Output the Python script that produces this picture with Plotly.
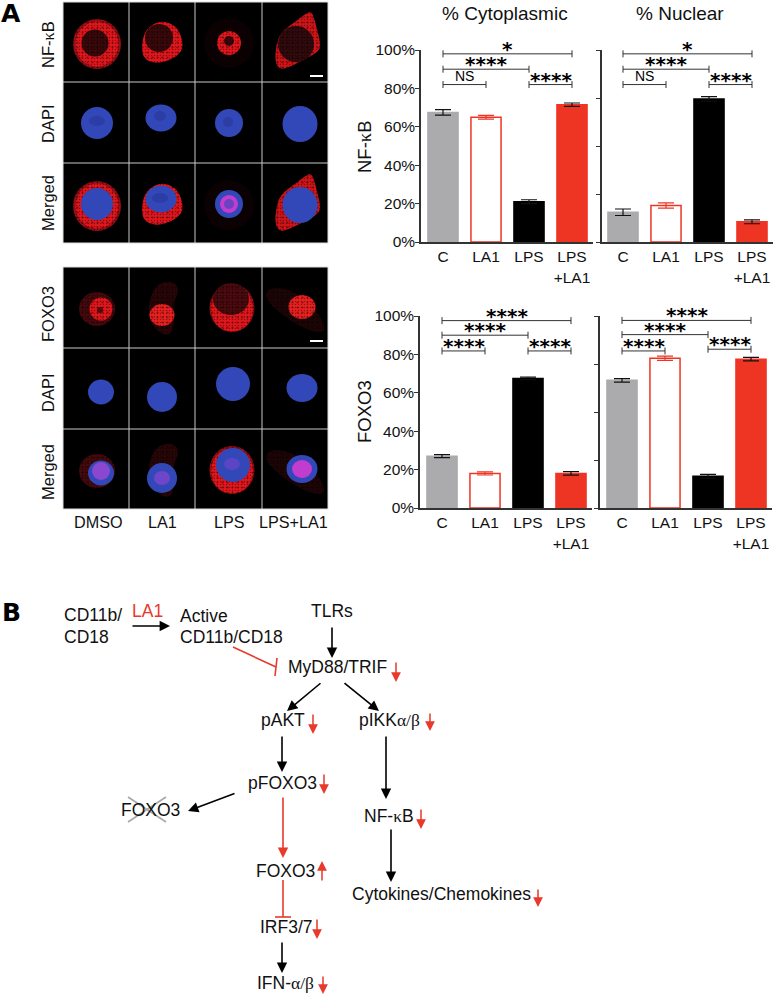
import plotly.graph_objects as go

W, H = 775, 996
FONT = "Liberation Sans"
GREY, RED, BLACK = "#ababae", "#ee3524", "#000000"
DIAG_RED = "#e8392b"

# ---------- bar chart data ----------
categories = ["C", "LA1", "LPS", "LPS<br>+LA1"]
nfkb_cyto = [67.5, 65.0, 21.0, 71.5]
nfkb_cyto_err = [1.4, 1.0, 1.0, 0.9]
nfkb_nuc = [15.5, 19.0, 74.5, 10.5]
nfkb_nuc_err = [1.7, 1.4, 1.2, 1.0]
foxo_cyto = [27.0, 18.0, 67.5, 18.0]
foxo_cyto_err = [0.8, 0.8, 0.7, 0.9]
foxo_nuc = [66.5, 78.0, 16.5, 77.5]
foxo_nuc_err = [0.9, 1.1, 1.0, 0.9]

nfkb_cyto_sig = [(0, 3, 98, "*"), (0, 2, 90, "****"), (0, 1, 82, "NS"), (2, 3, 82, "****")]
nfkb_nuc_sig = [(0, 3, 98, "*"), (0, 2, 90, "****"), (0, 1, 82, "NS"), (2, 3, 82, "****")]
foxo_cyto_sig = [(0, 3, 97.6, "****"), (0, 2, 90, "****"), (0, 1, 81.8, "****"), (2, 3, 81.8, "****")]
foxo_nuc_sig = [(0, 3, 97.7, "****"), (0, 2, 90.3, "****"), (0, 1, 81.8, "****"), (2, 3, 82.7, "****")]

# panel placement in page pixels: axis left, axis right, 0% y, 100% y
panels = [
    (nfkb_cyto, nfkb_cyto_err, nfkb_cyto_sig, (421, 593, 242, 50), True),
    (nfkb_nuc, nfkb_nuc_err, nfkb_nuc_sig, (602, 773, 242, 50), False),
    (foxo_cyto, foxo_cyto_err, foxo_cyto_sig, (420, 592, 508, 316), True),
    (foxo_nuc, foxo_nuc_err, foxo_nuc_sig, (600, 772, 508, 316), False),
]

fig = go.Figure()
shapes, annos = [], []


def fx(x):
    return x / W


def fy(y):
    return 1 - y / H


def text(x, y, s, size=17, color="#111", anchor="center", angle=0, family=FONT, bold=False):
    annos.append(dict(xref="paper", yref="paper", x=fx(x), y=fy(y), text=f"<b>{s}</b>" if bold else s,
                      showarrow=False, xanchor=anchor, yanchor="middle", textangle=angle,
                      font=dict(family=family, size=size, color=color)))


def arrow(x0, y0, x1, y1, color="#000", width=1.6):
    annos.append(dict(xref="paper", yref="paper", x=fx(x1), y=fy(y1), ax=x0 - x1, ay=y0 - y1,
                      axref="pixel", ayref="pixel", text="", showarrow=True, arrowhead=2,
                      arrowsize=1.3, arrowwidth=width, arrowcolor=color, standoff=0, startstandoff=0))


def line(x0, y0, x1, y1, color="#000", width=1.6):
    shapes.append(dict(type="line", xref="paper", yref="paper", x0=fx(x0), y0=fy(y0), x1=fx(x1), y1=fy(y1),
                       line=dict(color=color, width=width), layer="above"))


def ell(cx, cy, rx, ry, color, layer="below"):
    shapes.append(dict(type="circle", xref="paper", yref="paper", x0=fx(cx - rx), x1=fx(cx + rx),
                       y0=fy(cy + ry), y1=fy(cy - ry), fillcolor=color, line=dict(width=0), layer=layer))


def blob(points, color, dy=0, layer="below"):
    pts = [(fx(x), fy(y + dy)) for x, y in points]
    n = len(pts)
    mid = lambda a, b: ((a[0] + b[0]) / 2, (a[1] + b[1]) / 2)
    s = mid(pts[-1], pts[0])
    d = f"M {s[0]:.5f} {s[1]:.5f}"
    for i in range(n):
        m = mid(pts[i], pts[(i + 1) % n])
        d += f" Q {pts[i][0]:.5f} {pts[i][1]:.5f} {m[0]:.5f} {m[1]:.5f}"
    shapes.append(dict(type="path", xref="paper", yref="paper", path=d + " Z", fillcolor=color,
                       line=dict(width=0), layer=layer))


def rect(x0, y0, x1, y1, color, layer="below"):
    shapes.append(dict(type="rect", xref="paper", yref="paper", x0=fx(x0), x1=fx(x1), y0=fy(y1), y1=fy(y0),
                       fillcolor=color, line=dict(width=0), layer=layer))


# speckle overlays on the red-stained image rows, in an invisible page-pixel subplot
speckle_areas = [(64, 2, 327, 82), (64, 163, 327, 243), (64, 267, 327, 348), (64, 429, 327, 509)]
for x0, y0, x1, y1 in speckle_areas:
    for size, sol in ((3, 0.2), (5, 0.15)):
        fig.add_trace(go.Scatter(
            x=[x0, x1, x1, x0, x0], y=[y0, y0, y1, y1, y0], mode="none", fill="toself",
            xaxis="x5", yaxis="y5", showlegend=False, hoverinfo="skip",
            fillcolor="rgba(0,0,0,0)",
            fillpattern=dict(shape=".", fgcolor="#000000", fgopacity=0.42, bgcolor="rgba(0,0,0,0)",
                             size=size, solidity=sol)))

# ---------- bar panels ----------
bar_colors = [GREY, "#ffffff", BLACK, RED]
line_colors = [GREY, RED, BLACK, RED]
err_colors = ["#111", RED, "#111", "#111"]
for i, (vals, errs, sig, (xl, xr, y0, y100), labelled) in enumerate(panels):
    n = "" if i == 0 else str(i + 1)
    pitch = 43
    cx0 = xl + (22 if i != 1 else 21)
    for j in range(4):
        fig.add_trace(go.Bar(
            x=[j], y=[vals[j]], width=[0.7], xaxis=f"x{n}", yaxis=f"y{n}", showlegend=False,
            marker=dict(color=bar_colors[j], line=dict(color=line_colors[j], width=1.5)),
            error_y=dict(type="data", array=[errs[j]], color=err_colors[j], thickness=1.2, width=8),
            hoverinfo="skip"))
    for a, b, yy, lab in sig:
        fig.add_trace(go.Scatter(
            x=[a, b], y=[yy, yy], mode="lines+markers", xaxis=f"x{n}", yaxis=f"y{n}", showlegend=False,
            line=dict(color="#333", width=1), cliponaxis=False, hoverinfo="skip",
            marker=dict(symbol="line-ns", size=5, line=dict(color="#333", width=1))))
        is_ns = lab == "NS"
        annos.append(dict(xref=f"x{n}", yref=f"y{n}", x=(a + b) / 2, y=yy + (4.4 if is_ns else 0), text=lab,
                          showarrow=False, yanchor="middle" if is_ns else "bottom",
                          yshift=0 if is_ns else -9,
                          font=dict(family=FONT if is_ns else "DejaVu Sans", size=14 if is_ns else 20,
                                    color="#000", weight="normal" if is_ns else "bold")))
    xkw = dict(
        domain=[fx(xl), fx(xr)], range=[(xl - cx0) / pitch, (xr - cx0) / pitch], tickmode="array",
        tickvals=[0, 1, 2, 3], ticktext=categories, ticks="", showline=True, linecolor="#333", linewidth=1.5,
        showgrid=False, zeroline=False, tickfont=dict(family=FONT, size=15.5, color="#111"),
        anchor=f"y{n}", tickangle=0, automargin=False)
    ykw = dict(
        domain=[fy(y0), fy(y100)], range=[0, 100], showline=True, linecolor="#333", linewidth=1.5,
        showgrid=False, zeroline=False, ticks="outside", ticklen=4, tickcolor="#333", tickwidth=1.2,
        anchor=f"x{n}", automargin=False)
    if labelled:
        ykw.update(tickmode="array", tickvals=[0, 20, 40, 60, 80, 100],
                   ticktext=["0%", "20%", "40%", "60%", "80%", "100%"], ticklabelstandoff=-3,
                   tickfont=dict(family=FONT, size=15.5, color="#111"))
    else:
        ykw.update(tickmode="array", tickvals=[0, 25, 50, 75, 100], showticklabels=False)
    fig.update_layout(**{f"xaxis{n}": xkw, f"yaxis{n}": ykw})

fig.update_layout(
    xaxis5=dict(domain=[0, 1], range=[0, W], visible=False, anchor="y5", automargin=False),
    yaxis5=dict(domain=[0, 1], range=[H, 0], visible=False, anchor="x5", automargin=False))

text(505, 13, "% Cytoplasmic", 19)
text(680, 13, "% Nuclear", 19)
KAPPA = '<span style="font-family:Liberation Serif">κ</span>'
text(364, 147, f"NF-{KAPPA}B", 18.5, angle=-90)
text(364, 412, "FOXO3", 18.5, angle=-90)

# ---------- microscopy panels ----------
text(11, 14, "A", 25, "#000", family="DejaVu Sans", bold=True)
text(11, 612, "B", 25, "#000", family="DejaVu Sans", bold=True)
CY = "#e2161c"
CY_EDGE = "#9a0e14"
DK = "#3a080a"
BL = "#3348b8"
BL2 = "#2c3da6"
PK = "#c23ccf"

for top, rows in ((2, (82, 163, 243)), (267, (348, 429, 509))):
    rect(63, top, 328, rows[2], "#000000")

cell4 = [(312, 11), (316, 25), (321, 45), (318, 52), (307, 58), (292, 66), (280, 70), (275, 62),
         (276, 45), (281, 32), (295, 22), (305, 14)]
cell2 = [(146, 28), (162, 20), (178, 27), (184, 46), (178, 56), (160, 64), (144, 60), (141, 46)]
foxo_body2 = [(155, 285), (172, 280), (180, 290), (172, 305), (175, 325), (168, 338), (150, 325), (148, 305)]
foxo_body4 = [(266, 288), (290, 288), (318, 310), (328, 335), (300, 328), (266, 302)]

for dy in (0, 162):
    # NF-kB cytoplasm
    ell(97, 44 + dy, 24, 25, CY_EDGE)
    ell(97, 44 + dy, 21.5, 22.5, CY)
    blob(cell2, CY, dy)
    ell(229, 43 + dy, 25, 25, "#0d0102")
    ell(229, 43 + dy, 12, 12, CY)
    blob(cell4, "#d01419", dy)
    if dy == 0:
        ell(95, 43, 13.5, 13.5, DK)
        ell(159, 38, 14, 14, DK)
        ell(229, 41, 5, 5, DK)
        ell(296, 44, 18, 18, "#300a0c")
    # FOXO3 cells
    ell(97, 309 + dy, 18, 17, "#44090c")
    blob(foxo_body2, "#280506", dy)
    blob(foxo_body4, "#1d0405", dy)
    ell(232, 308 + dy, 22.5, 24, CY_EDGE)
    ell(232, 309 + dy, 21, 22.5, CY)
    if dy == 0:
        ell(231, 299, 18, 16, "#4a0a0e")
        ell(101, 309, 11.5, 11.5, CY)
        ell(100, 310, 3, 3, "#5c0c10")
        ell(162, 315, 12.5, 11, "#ea2020")
        ell(302, 307, 13.5, 12, "#ea2020")

for dy in (81, 162):
    ell(97, 42 + dy, 16, 16, BL, "above")
    ell(161, 37 + dy, 15.5, 13.5, BL, "above")
    ell(229, 42 + dy, 14, 14, BL, "above")
    ell(300, 43 + dy, 17.5, 18, BL, "above")
    ell(101, 311 + dy, 13, 12.5, BL, "above")
    ell(162, 316 + dy, 15, 15, BL, "above")
    ell(233, 303 + dy, 17, 17, BL, "above")
    ell(302, 307 + dy, 15.5, 14, BL, "above")
for args in ((97, 121, 8, 5), (160, 116, 6, 5), (228, 122, 5, 5), (160, 198, 8, 5)):
    ell(*args, BL2, "above")
ell(229, 204, 9, 9, PK, "above")
ell(229, 204, 5, 5, "#6a44c0", "above")
ell(101, 471, 9, 9, "#8a48d0", "above")
ell(162, 478, 8, 7, "#6e46c8", "above")
ell(302, 469, 10, 9, PK, "above")
ell(232, 464, 8, 6, "#5a46c4", "above")

for xs, ys, y_top, y_bot in (((129, 195, 262), (82, 163), 2, 243), ((129, 195, 262), (348, 429), 267, 509)):
    for x in xs:
        line(x, y_top, x, y_bot, "#c9c9c9", 1)
    for y in ys:
        line(63, y, 328, y, "#c9c9c9", 1)
    for edge in (y_top, y_bot):
        line(63, edge, 328, edge, "#dddddd", 1)
    line(63, y_top, 63, y_bot, "#dddddd", 1)
    line(328, y_top, 328, y_bot, "#dddddd", 1)
rect(310, 75, 323, 77, "#ffffff", "above")
rect(310, 340, 323, 342, "#ffffff", "above")

for y, s in ((45, f"NF-{KAPPA}B"), (124, "DAPI"), (203, "Merged"), (314, "FOXO3"), (393, "DAPI"), (472, "Merged")):
    text(48, y, s, 16.5, angle=-90)
for x, s in ((98, "DMSO"), (162, "LA1"), (229, "LPS"), (293, "LPS+LA1")):
    text(x, 522, s, 16.2)

# ---------- pathway ----------
ALPHA = '<span style="font-family:Liberation Serif">α/β</span>'
text(62, 615, "CD11b/", 17.5, anchor="left")
text(62, 637, "CD18", 17.5, anchor="left")
text(147, 611, "LA1", 17.5, DIAG_RED)
text(178, 616, "Active", 17.5, anchor="left")
text(178, 637, "CD11b/CD18", 17.5, anchor="left")
text(332, 611, "TLRs", 17.5)
text(286, 667, "MyD88/TRIF", 17.5, anchor="left")
text(283, 720, "pAKT", 17.5)
text(389, 720, f"pIKK{ALPHA}", 17.5)
text(282, 783, "pFOXO3", 17.5)
text(150, 810, "FOXO3", 17.5)
text(389, 816, f"NF-{KAPPA}B", 17.5)
text(285, 871, "FOXO3", 17.5)
text(441, 894, "Cytokines/Chemokines", 17.5)
text(286, 927, "IRF3/7", 17.5)
text(285, 983, f"IFN-{ALPHA}", 17.5)

arrow(131, 626, 170, 626)
arrow(332, 626, 332, 658)
arrow(322, 682, 287, 711)
arrow(343, 682, 379, 711)
arrow(282, 735, 282, 772)
arrow(386, 735, 386, 799)
arrow(236, 793, 188, 811)
arrow(391, 828, 391, 882)
arrow(282, 941, 282, 973)
arrow(283, 796, 283, 858, DIAG_RED)
line(233, 647, 276, 667, DIAG_RED)
line(277, 658, 275, 676, DIAG_RED)
line(283, 880, 283, 917, DIAG_RED)
line(275, 917, 291, 917, DIAG_RED)
line(128, 797, 166, 822, "#a8a8a8")
line(128, 822, 166, 797, "#a8a8a8")
for x, y0, y1 in ((396, 661, 682), (313, 713, 734), (430, 712, 731), (324, 773, 794), (421, 808, 829),
                  (322, 882, 861), (538, 888, 907), (317, 918, 939), (323, 975, 994)):
    arrow(x, y0, x, y1, DIAG_RED, 1.5)

fig.update_layout(template="none", width=W, height=H, margin=dict(l=0, r=0, t=0, b=0, autoexpand=False),
                  autosize=False, paper_bgcolor="white", plot_bgcolor="rgba(0,0,0,0)", barmode="overlay",
                  shapes=shapes, annotations=annos, showlegend=False)
fig.write_html("out.html", config=dict(displayModeBar=False),
               post_script="document.body.style.margin='0';document.body.style.overflow='hidden';")
